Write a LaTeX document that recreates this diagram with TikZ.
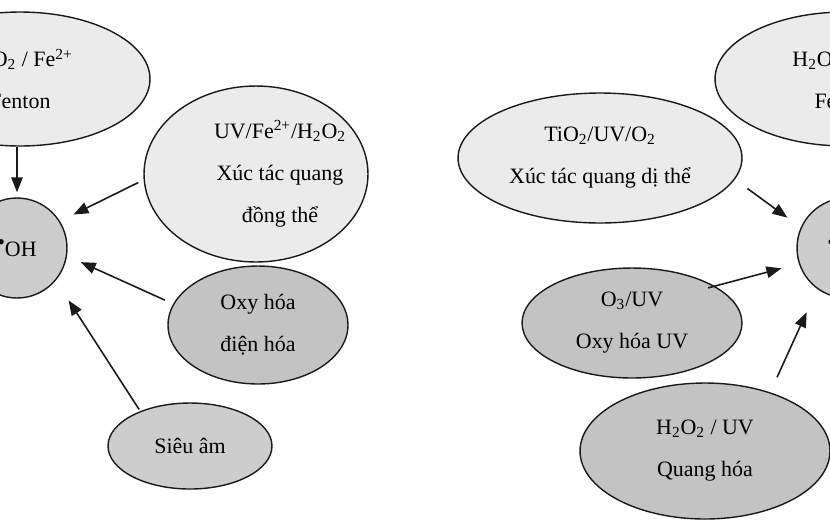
\documentclass[tikz,border=0pt]{standalone}
\usepackage{fontspec}
\setmainfont{Liberation Serif}
\usetikzlibrary{shapes.geometric,arrows.meta}
\definecolor{cpale}{HTML}{EBEBEB}
\definecolor{cmid}{HTML}{CDCDCD}
\definecolor{cdark}{HTML}{C3C3C3}
\definecolor{cink}{HTML}{1A1A1A}
\newcommand{\hho}{H\textsubscript{2}O\textsubscript{2}}
\newcommand{\radOH}{\raisebox{0.3em}{\textbullet}OH}

\begin{document}
\begin{tikzpicture}[x=0.02cm,y=-0.02cm,
  words/.style={align=center,font=\fontsize{12.5}{24}\selectfont},
  blob/.style={ellipse,draw=cink,line width=0.8pt,inner sep=0pt,words},
  hub/.style={circle,draw=cink,line width=0.8pt,fill=cmid,minimum size=20mm,
    inner sep=0pt,font=\fontsize{12.5}{14}\selectfont},
  feed/.style={-{Triangle[length=3mm,width=2.3mm]},line width=0.9pt,cink}]
  \useasboundingbox (0,0) rectangle (830,525);
  \clip (0,0) rectangle (830,525);

  % left group
  \node[blob,fill=cpale,minimum width=52mm,minimum height=26.8mm] (fentonL) at (20,79)
    {\hho{} / Fe\textsuperscript{2+}\\Fenton};
  \node[hub] (ohL) at (17,248) {\radOH};
  \node[blob,fill=cpale,minimum width=44.8mm,minimum height=35.2mm,
    label={[words,xshift=4.8mm]center:{UV/Fe\textsuperscript{2+}/\hho\\Xúc tác quang\\đồng thể}}]
    (uvfe) at (256,174) {};
  \node[blob,fill=cdark,minimum width=36mm,minimum height=23.6mm] (elec) at (258,325)
    {Oxy hóa\\điện hóa};
  \node[blob,fill=cmid,minimum width=32.8mm,minimum height=17.2mm] (sono) at (190,446)
    {Siêu âm};

  \draw[feed,shorten >=1mm] (ohL.north |- fentonL.south) -- (ohL.north);
  \draw[feed,shorten <=1.2mm,shorten >=3mm] (uvfe.183) -- (ohL.32);
  \draw[feed,shorten <=1.8mm,shorten >=3mm] (elec.166) -- (ohL.-9);
  \draw[feed,shorten <=0.4mm,shorten >=4.7mm] (sono.145) -- (ohL.-40);

  % right group
  \node[blob,fill=cpale,minimum width=52mm,minimum height=26.8mm] (fentonR) at (845,79)
    {\hho{} / Fe\textsuperscript{2+}\\Fenton};
  \node[hub] (ohR) at (847,248) {\radOH};
  \node[blob,fill=cpale,minimum width=56.8mm,minimum height=26mm] (tio) at (600,158)
    {TiO\textsubscript{2}/UV/O\textsubscript{2}\\Xúc tác quang dị thể};
  \node[blob,fill=cdark,minimum width=44mm,minimum height=22mm] (ozone) at (632,323)
    {O\textsubscript{3}/UV\\Oxy hóa UV};
  \node[blob,fill=cdark,minimum width=50mm,minimum height=27.2mm] (photo) at (705,451)
    {\hho{} / UV\\Quang hóa};

  \draw[feed,shorten <=3.1mm,shorten >=3.3mm] (tio.-9) -- (ohR.156);
  \draw[feed,shorten <=-1.4mm,shorten >=3.6mm] (ozone.24) -- (ohR.198);
  \draw[feed,shorten <=3.3mm,shorten >=5.1mm] (photo.42) -- (ohR.234);
\end{tikzpicture}
\end{document}
